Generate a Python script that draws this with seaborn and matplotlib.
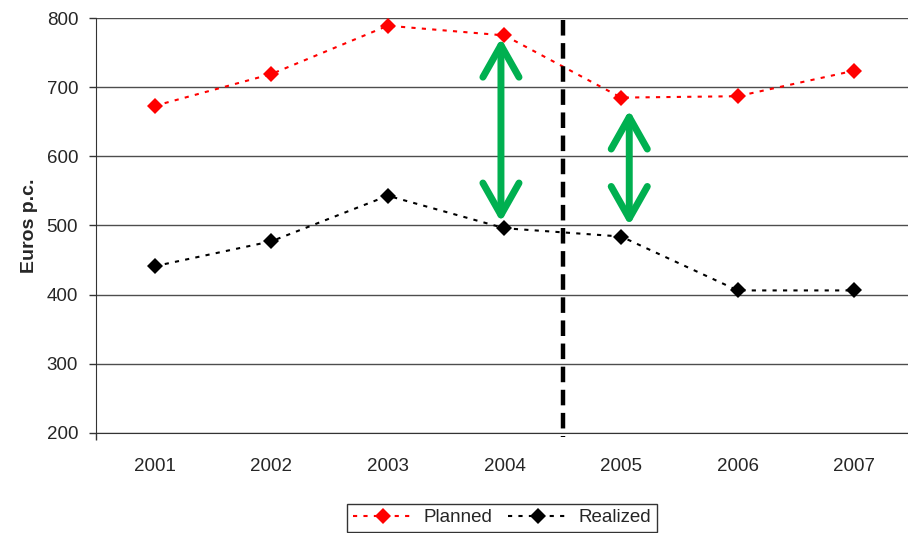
import numpy as np
import pandas as pd
import seaborn as sns
import matplotlib.pyplot as plt

# data
years = [2001, 2002, 2003, 2004, 2005, 2006, 2007]
planned = [673, 719, 789, 775, 685, 687, 724]
realized = [441, 477, 543, 496, 484, 406, 406]
y_ticks = [200, 300, 400, 500, 600, 700, 800]
# gaps highlighted with green arrows: (year, top, bottom)
gap_arrows = [(2004, 771, 505), (2005, 667, 500)]
split_year = 2004.5

df = pd.DataFrame({'year': years * 2,
                   'value': planned + realized,
                   'series': ['Planned'] * len(years) + ['Realized'] * len(years)})

sns.set_style("white")
plt.rcParams['font.family'] = ['Liberation Sans', 'DejaVu Sans']

fig = plt.figure(figsize=(9.08, 5.33), dpi=100)
ax = fig.add_axes([0.106, 0.188, 0.894, 0.778])

# gridlines
for yt in y_ticks:
    ax.axhline(yt, color='#4d4d4d', lw=1.0, zorder=0)

colors = {'Planned': '#ff0000', 'Realized': '#000000'}
for name, grp in df.groupby('series'):
    sns.lineplot(data=grp, x='year', y='value', ax=ax, color=colors[name], label=name,
                 marker='D', markersize=8, markeredgewidth=0, linestyle=(0, (2, 3)), lw=1.5,
                 sort=False, zorder=3)

# split line between 2004 and 2005
ax.plot([split_year, split_year], [797, 194], color='black', lw=3.2,
        linestyle=(0, (3.5, 1.7)), clip_on=False, zorder=4)

offsets = [-0.03, 0.07]
for (yr, top, bot), off in zip(gap_arrows, offsets):
    ax.annotate('', xy=(yr + off, top), xytext=(yr + off, bot),
                arrowprops=dict(arrowstyle='<->,head_length=1.15,head_width=0.65', lw=5,
                                color='#00b050', capstyle='round', joinstyle='round',
                                shrinkA=0, shrinkB=0, mutation_scale=20), zorder=5)

ax.set_xlim(2000.5, 2007.46)
ax.set_ylim(200, 800)
ax.set_yticks(y_ticks)
ax.set_xticks(years)
ax.set_xticks([2000.5], minor=True)
ax.tick_params(axis='y', labelsize=13.5, length=5, width=1, color='#333333', direction='out',
               left=True, pad=8)
ax.tick_params(axis='x', which='major', labelsize=13.5, length=0, pad=18)
ax.tick_params(axis='x', which='minor', length=5, width=1, color='#333333', direction='out', bottom=True)

for side in ['top', 'right']:
    ax.spines[side].set_visible(False)
ax.spines['left'].set_color('#333333')
ax.spines['bottom'].set_color('#333333')

ax.set_xlabel(None)
ax.set_ylabel('Euros p.c.', fontsize=14, fontweight='bold', labelpad=6)

leg = ax.legend(loc='upper center', bbox_to_anchor=(0.5, -0.148), ncol=2, fontsize=13.5,
                frameon=True, fancybox=False, edgecolor='black', handlelength=3.2,
                columnspacing=0.8, handletextpad=0.6, borderpad=0.3)
leg.get_frame().set_linewidth(1.0)

plt.savefig('out.png', dpi=100)
